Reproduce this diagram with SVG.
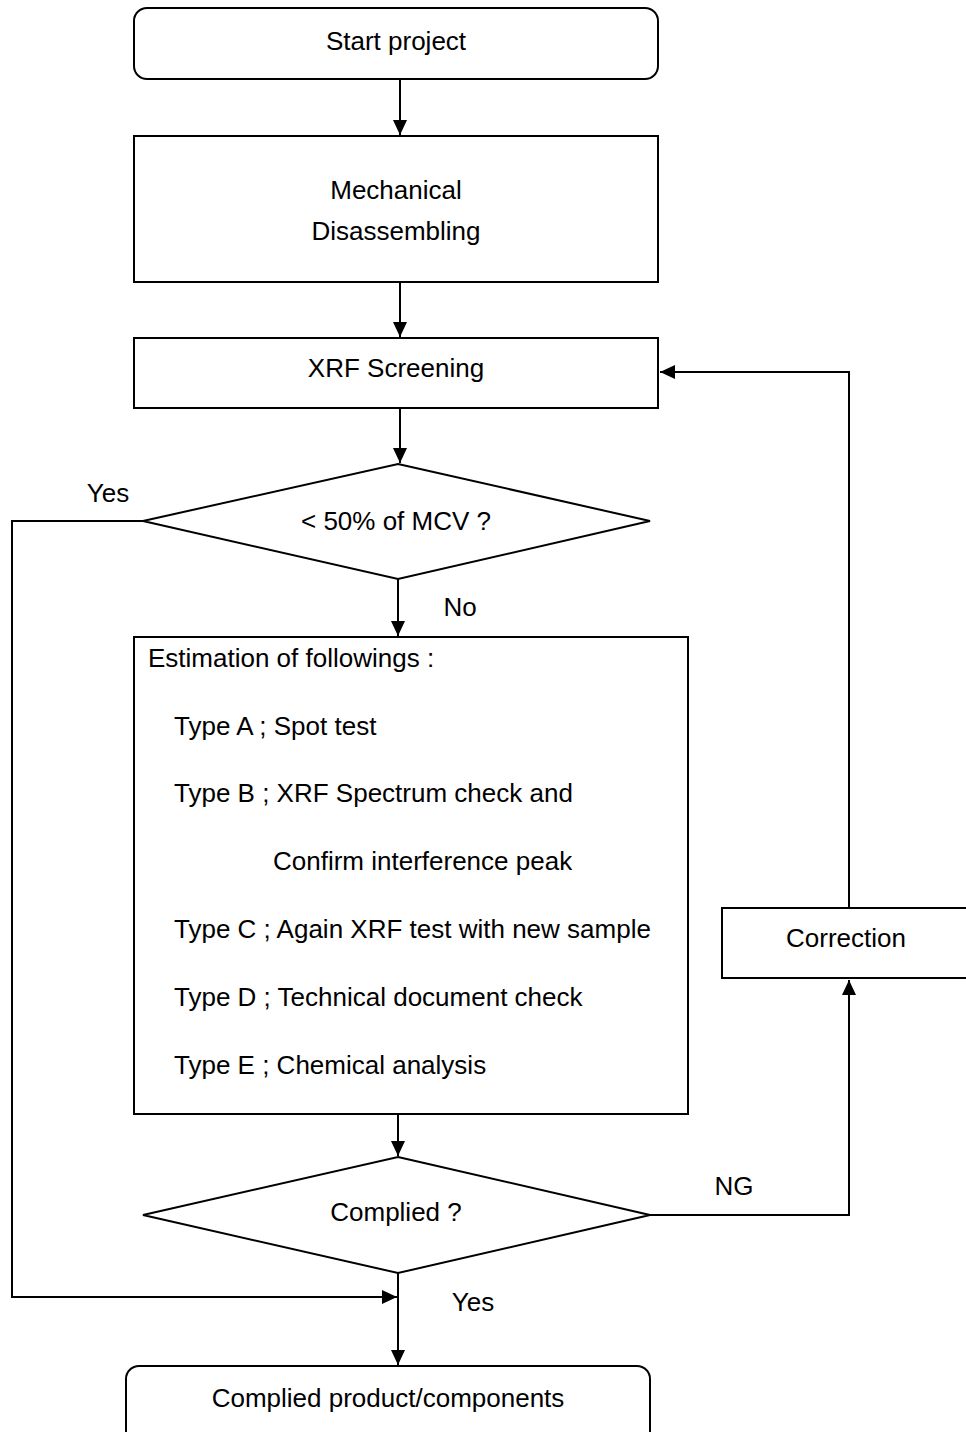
<svg xmlns="http://www.w3.org/2000/svg" width="966" height="1432" viewBox="0 0 966 1432">
<style>
.box{fill:#fff;stroke:#000;stroke-width:2}
.ln{fill:none;stroke:#000;stroke-width:2}
text{font-family:"Liberation Sans",Arial,sans-serif;font-size:26px;fill:#000}
.c{text-anchor:middle}
</style>
<defs>
<marker id="ah" viewBox="0 0 15 14" refX="15" refY="7" markerWidth="15" markerHeight="14" markerUnits="userSpaceOnUse" orient="auto">
<path d="M0,0 L15,7 L0,14 Z" fill="#000"/>
</marker>
</defs>
<rect width="966" height="1432" fill="#fff"/>
<g id="connectors">
<line class="ln" x1="400" y1="79" x2="400" y2="135" marker-end="url(#ah)"/>
<line class="ln" x1="400" y1="282" x2="400" y2="337" marker-end="url(#ah)"/>
<line class="ln" x1="400" y1="408" x2="400" y2="463" marker-end="url(#ah)"/>
<line class="ln" x1="398" y1="579" x2="398" y2="636" marker-end="url(#ah)"/>
<polyline class="ln" points="143,521 12,521 12,1297 397,1297" marker-end="url(#ah)"/>
<line class="ln" x1="398" y1="1114" x2="398" y2="1156" marker-end="url(#ah)"/>
<line class="ln" x1="398" y1="1273" x2="398" y2="1365" marker-end="url(#ah)"/>
<polyline class="ln" points="650,1215 849,1215 849,980" marker-end="url(#ah)"/>
<polyline class="ln" points="849,908 849,372 660,372" marker-end="url(#ah)"/>
<text x="108" y="502" class="c">Yes</text>
<text x="460" y="616" class="c">No</text>
<text x="734" y="1195" class="c">NG</text>
<text x="473" y="1311" class="c">Yes</text>
</g>
<g id="start">
<rect class="box" x="134" y="8" width="524" height="71" rx="13"/>
<text x="396" y="50" class="c">Start project</text>
</g>
<g id="mechanical">
<rect class="box" x="134" y="136" width="524" height="146"/>
<text x="396" y="199" class="c">Mechanical</text>
<text x="396" y="240" class="c">Disassembling</text>
</g>
<g id="xrf">
<rect class="box" x="134" y="338" width="524" height="70"/>
<text x="396" y="377" class="c">XRF Screening</text>
</g>
<g id="decision1">
<polygon class="box" points="398,464 650,521 398,579 143,521"/>
<text x="396" y="530" class="c">&lt; 50% of MCV ?</text>
</g>
<g id="estimation">
<rect class="box" x="134" y="637" width="554" height="477"/>
<text x="148" y="667">Estimation of followings :</text>
<text x="174" y="735">Type A ; Spot test</text>
<text x="174" y="802">Type B ; XRF Spectrum check and</text>
<text x="273" y="870">Confirm interference peak</text>
<text x="174" y="938">Type C ; Again XRF test with new sample</text>
<text x="174" y="1006">Type D ; Technical document check</text>
<text x="174" y="1074">Type E ; Chemical analysis</text>
</g>
<g id="decision2">
<polygon class="box" points="398,1157 650,1215 398,1273 143,1215"/>
<text x="396" y="1221" class="c">Complied ?</text>
</g>
<g id="correction">
<rect class="box" x="722" y="908" width="250" height="70"/>
<text x="846" y="947" class="c">Correction</text>
</g>
<g id="end">
<rect class="box" x="126" y="1366" width="524" height="80" rx="13"/>
<text x="388" y="1407" class="c">Complied product/components</text>
</g>
</svg>
